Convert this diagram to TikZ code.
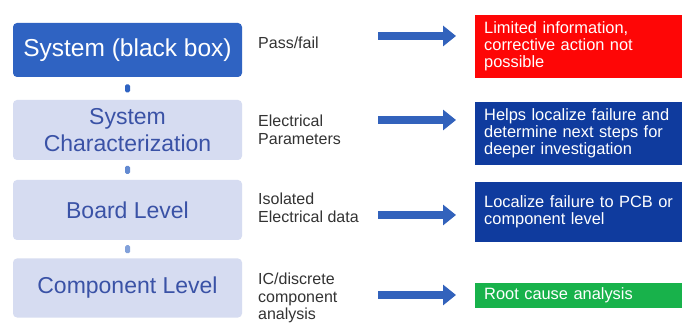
\documentclass[tikz,border=0pt]{standalone}
\usepackage{fontspec}
\setmainfont{Liberation Sans}
\usetikzlibrary{arrows.meta,calc}
\definecolor{topblue}{HTML}{2F63C2}
\definecolor{lightbox}{HTML}{D6DCF1}
\definecolor{lighttext}{HTML}{3A52A6}
\definecolor{darkblue}{HTML}{0F3B9E}
\definecolor{redbox}{HTML}{FE0606}
\definecolor{greenbox}{HTML}{18B24B}
\definecolor{arrowblue}{HTML}{3262BC}
\definecolor{midtext}{HTML}{333333}
\begin{document}
\begin{tikzpicture}[x=1pt,y=-1pt,
  lbox/.style={rounded corners=4pt, minimum width=229pt, inner sep=0pt, align=center},
  topbox/.style={lbox, fill=topblue, text=white, font=\fontsize{24.5}{28}\selectfont},
  subbox/.style={lbox, fill=lightbox, text=lighttext, font=\fontsize{23}{27}\selectfont},
  conn/.style={rounded corners=1.5pt, minimum width=5pt, minimum height=8pt, inner sep=0pt, fill=#1},
  midlabel/.style={anchor=west, align=left, inner sep=0pt, text=midtext, font=\fontsize{16}{17.5}\selectfont},
  rbox/.style={anchor=west, align=left, inner xsep=9pt, inner ysep=0pt, text width=189pt, text=white, font=\fontsize{16.4}{17}\selectfont},
  bigarrow/.style={draw=arrowblue, line width=8pt, -{Triangle[width=20pt,length=13pt]}}
]
\useasboundingbox (0,0) rectangle (682,328);
\fill[white] (0,0) rectangle (682,328);

% left stack
\node[topbox, minimum height=54pt] (b1) at (127.5,50) {System (black box)};
\node[subbox, minimum height=60pt] (b2) at (127.5,130) {System\\Characterization};
\node[subbox, minimum height=60pt] (b3) at (127.5,210) {Board Level};
\node[subbox, minimum height=59pt] (b4) at (127.5,288) {Component Level};

\node[conn=topblue] (c1) at ($(b1.south)!0.5!(b2.north)$) {};
\node[conn=topblue!75] (c2) at ($(b2.south)!0.5!(b3.north)$) {};
\node[conn=topblue!60] (c3) at ($(b3.south)!0.5!(b4.north)$) {};

% middle labels
\node[midlabel] (m1) at (258,43) {Pass/fail};
\node[midlabel] (m2) at (258,130) {Electrical\\Parameters};
\node[midlabel] (m3) at (258,208) {Isolated\\Electrical data};
\node[midlabel] (m4) at (258,298) {IC/discrete\\component\\analysis};

% arrows
\coordinate (a1s) at (378,36);  \coordinate (a1e) at (456,36);
\coordinate (a2s) at (378,120); \coordinate (a2e) at (456,120);
\coordinate (a3s) at (378,215); \coordinate (a3e) at (456,215);
\coordinate (a4s) at (378,295); \coordinate (a4e) at (456,295);
\draw[bigarrow] (a1s) -- (a1e);
\draw[bigarrow] (a2s) -- (a2e);
\draw[bigarrow] (a3s) -- (a3e);
\draw[bigarrow] (a4s) -- (a4e);

% right boxes
\node[rbox, fill=redbox, minimum height=63pt] (r1) at (475,46.5) {Limited information,\\corrective action not\\possible};
\node[rbox, fill=darkblue, minimum height=63pt] (r2) at (475,133.5) {Helps localize failure and\\determine next steps for\\deeper investigation};
\node[rbox, fill=darkblue, minimum height=60pt] (r3) at (475,212) {Localize failure to PCB or\\component level};
\node[rbox, fill=greenbox, minimum height=25pt] (r4) at (475,295.5) {Root cause analysis};
\end{tikzpicture}
\end{document}
